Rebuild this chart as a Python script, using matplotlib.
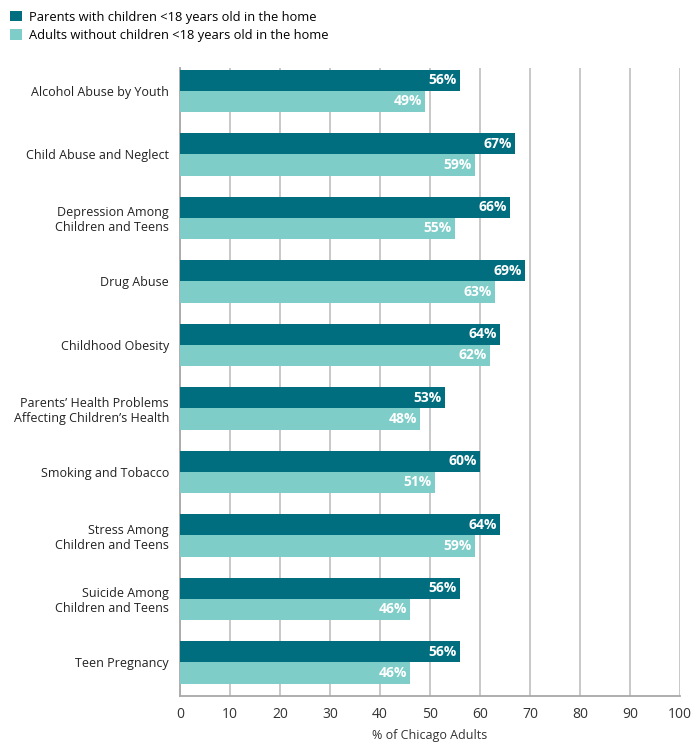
import matplotlib.pyplot as plt
import numpy as np

categories = ["Alcohol Abuse by Youth", "Child Abuse and Neglect",
              "Depression Among\nChildren and Teens", "Drug Abuse",
              "Childhood Obesity",
              "Parents\u2019 Health Problems\nAffecting Children\u2019s Health",
              "Smoking and Tobacco", "Stress Among\nChildren and Teens",
              "Suicide Among\nChildren and Teens", "Teen Pregnancy"]
parents = [56, 67, 66, 69, 64, 53, 60, 64, 56, 56]
adults = [49, 59, 55, 63, 62, 48, 51, 59, 46, 46]
series_names = ["Parents with children <18 years old in the home",
                "Adults without children <18 years old in the home"]

dark = "#006e7f"
light = "#7ecdc8"
plt.rcParams['font.family'] = ['Open Sans', 'DejaVu Sans']

fig = plt.figure(figsize=(6.93, 7.44), dpi=100)
ax = fig.add_axes([180 / 693, 48 / 744, 500 / 693, 628 / 744])

y = np.arange(len(categories))
h = 0.335
b1 = ax.barh(y - h / 2, parents, height=h, color=dark, label=series_names[0], zorder=3)
b2 = ax.barh(y + h / 2, adults, height=h, color=light, label=series_names[1], zorder=3)

for bars, vals in ((b1, parents), (b2, adults)):
    for bar, v in zip(bars, vals):
        ax.text(bar.get_width() - 0.6, bar.get_y() + bar.get_height() / 2, f"{v}%",
                ha="right", va="center", color="white", fontsize=10,
                fontweight="bold", zorder=4)

ax.set_xlim(0, 100)
ax.set_ylim(len(categories) - 1 + 0.53, -0.36)
ax.set_xticks(range(0, 101, 10))
ax.set_yticks(y)
ax.set_yticklabels(categories, fontsize=9, color="#222222")
ax.tick_params(axis="y", length=0, pad=8)
ax.tick_params(axis="x", length=0, pad=8, labelsize=10, labelcolor="#333333")
ax.xaxis.grid(True, color="#c4c4c4", linewidth=1.3, zorder=0)
for s in ("top", "right"):
    ax.spines[s].set_visible(False)
for s in ("left", "bottom"):
    ax.spines[s].set_color("#a8a8a8")
    ax.spines[s].set_linewidth(1.3)
ax.set_xlabel("% of Chicago Adults", fontsize=9, color="#333333", labelpad=5)

fig.legend(handles=[b1, b2], loc="upper left", bbox_to_anchor=(0.002, 0.998),
           frameon=False, fontsize=9.3, handlelength=0.9, handleheight=0.9,
           handletextpad=0.5, labelspacing=0.4, borderaxespad=0.3)

fig.savefig("out.png", dpi=100)
